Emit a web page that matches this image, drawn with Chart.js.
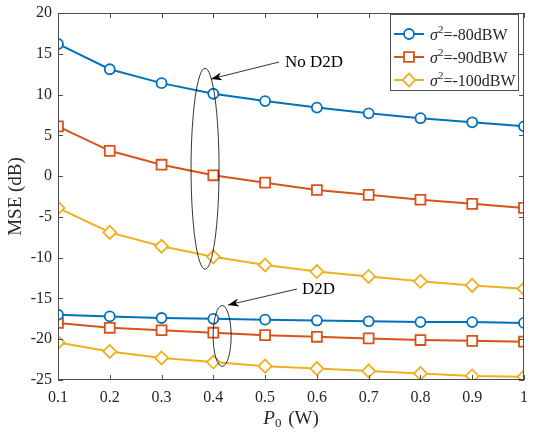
<!DOCTYPE html>
<html>
<head>
<meta charset="utf-8">
<script src="https://cdn.jsdelivr.net/npm/chart.js@4/dist/chart.umd.min.js"></script>
<style>
  body { margin: 0; background: #fff; }
  canvas { display: block; }
</style>
</head>
<body>
<canvas id="mse-chart" width="533" height="432"></canvas>
<script>
// ─── Data ──────────────────────────────────────────────────────────
const powerW = [0.1, 0.2, 0.3, 0.4, 0.5, 0.6, 0.7, 0.8, 0.9, 1];
const xTicks = [0.1, 0.2, 0.3, 0.4, 0.5, 0.6, 0.7, 0.8, 0.9, 1];
const yTicks = [-25, -20, -15, -10, -5, 0, 5, 10, 15, 20];

const noD2D80 = [16.2, 13.1, 11.4, 10.1, 9.2, 8.4, 7.7, 7.1, 6.6, 6.1];
const noD2D90 = [6.1, 3.1, 1.4, 0.1, -0.8, -1.7, -2.3, -2.9, -3.4, -3.9];
const noD2D100 = [-3.9, -6.9, -8.6, -9.9, -10.9, -11.7, -12.3, -12.9, -13.4, -13.8];
const d2d80 = [-17.0, -17.2, -17.4, -17.5, -17.6, -17.7, -17.8, -17.9, -17.9, -18.0];
const d2d90 = [-18.0, -18.6, -18.9, -19.2, -19.5, -19.7, -19.9, -20.1, -20.2, -20.3];
const d2d100 = [-20.4, -21.5, -22.3, -22.8, -23.3, -23.6, -23.9, -24.2, -24.5, -24.6];

const legendLabels = ['-80dBW', '-90dBW', '-100dBW'];

const SERIF = '"Liberation Serif", "DejaVu Serif", serif';
const AXIS_COLOR = '#4d4d4d';
const TEXT_COLOR = '#262626';

const styles = [
  { color: '#0072BD', pointStyle: 'circle', radius: 5 },
  { color: '#D95319', pointStyle: 'rect', radius: 7 },
  { color: '#EDB120', pointStyle: 'rectRot', radius: 6.5 },
];

function toPoints(values) {
  return values.map((y, i) => ({ x: powerW[i], y }));
}

function makeDataset(values, s, label) {
  return {
    label,
    data: toPoints(values),
    borderColor: s.color,
    backgroundColor: '#fff',
    borderWidth: 2,
    pointStyle: s.pointStyle,
    pointRadius: s.radius,
    pointBorderWidth: 1.8,
    pointBackgroundColor: '#fff',
    pointBorderColor: s.color,
    tension: 0,
  };
}

// ─── Frame, inward ticks, titles, legend, annotations ──────────────
const decorPlugin = {
  id: 'decor',
  afterDatasetsDraw(chart) {
    const { ctx, chartArea: a, scales } = chart;
    const xs = scales.x, ys = scales.y;
    ctx.save();

    // box + inward ticks
    ctx.strokeStyle = AXIS_COLOR;
    ctx.lineWidth = 1;
    ctx.strokeRect(a.left + 0.5, a.top + 0.5, a.right - a.left - 1, a.bottom - a.top - 1);
    ctx.beginPath();
    for (const t of xTicks) {
      const px = Math.round(xs.getPixelForValue(t)) + 0.5;
      ctx.moveTo(px, a.bottom); ctx.lineTo(px, a.bottom - 5);
      ctx.moveTo(px, a.top); ctx.lineTo(px, a.top + 5);
    }
    for (const t of yTicks) {
      const py = Math.round(ys.getPixelForValue(t)) + 0.5;
      ctx.moveTo(a.left, py); ctx.lineTo(a.left + 5, py);
      ctx.moveTo(a.right, py); ctx.lineTo(a.right - 5, py);
    }
    ctx.stroke();

    // annotations: ellipses + arrows
    ctx.strokeStyle = '#000';
    ctx.fillStyle = '#000';
    ctx.lineWidth = 0.8;
    const ellipse = (cx, cy, rx, ry) => {
      ctx.beginPath();
      ctx.ellipse(xs.getPixelForValue(cx), ys.getPixelForValue(cy), rx, ry, 0, 0, Math.PI * 2);
      ctx.stroke();
    };
    const arrow = (x1, y1, x2, y2) => {
      ctx.beginPath();
      ctx.moveTo(x1, y1); ctx.lineTo(x2, y2);
      ctx.stroke();
      const ang = Math.atan2(y2 - y1, x2 - x1);
      const len = 11, wid = 4;
      ctx.beginPath();
      ctx.moveTo(x2, y2);
      ctx.lineTo(x2 - len * Math.cos(ang) + wid * Math.sin(ang), y2 - len * Math.sin(ang) - wid * Math.cos(ang));
      ctx.lineTo(x2 - len * 0.7 * Math.cos(ang), y2 - len * 0.7 * Math.sin(ang));
      ctx.lineTo(x2 - len * Math.cos(ang) - wid * Math.sin(ang), y2 - len * Math.sin(ang) + wid * Math.cos(ang));
      ctx.closePath();
      ctx.fill();
    };
    ellipse(0.384, 0.9, 14, 100.5);
    ellipse(0.417, -19.6, 9, 30.5);
    arrow(279, 62, 211, 79);
    arrow(297, 289, 228, 305);

    ctx.fillStyle = '#000';
    ctx.font = '17px ' + SERIF;
    ctx.textBaseline = 'middle';
    ctx.textAlign = 'left';
    ctx.fillText('No D2D', 285, 63);
    ctx.fillText('D2D', 302, 290);

    // axis titles
    ctx.fillStyle = TEXT_COLOR;
    ctx.save();
    ctx.translate(16, (a.top + a.bottom) / 2);
    ctx.rotate(-Math.PI / 2);
    ctx.textAlign = 'center';
    ctx.textBaseline = 'middle';
    ctx.font = '19px ' + SERIF;
    ctx.fillText('MSE (dB)', 0, 0);
    ctx.restore();

    const xc = (a.left + a.right) / 2;
    ctx.textAlign = 'left';
    ctx.textBaseline = 'alphabetic';
    ctx.font = 'italic 19px ' + SERIF;
    const pW = ctx.measureText('P').width;
    ctx.font = '13px ' + SERIF;
    const sW = ctx.measureText('0').width;
    ctx.font = '19px ' + SERIF;
    const rest = ' (W)';
    const rW = ctx.measureText(rest).width;
    let tx = xc - (pW + sW + 2 + rW) / 2;
    const ty = 424;
    ctx.font = 'italic 19px ' + SERIF;
    ctx.fillText('P', tx, ty);
    tx += pW;
    ctx.font = '13px ' + SERIF;
    ctx.fillText('0', tx, ty + 3);
    tx += sW + 2;
    ctx.font = '19px ' + SERIF;
    ctx.fillText(rest, tx, ty);

    // legend
    const lx = 390, ly = 14, lw = 128, lh = 76;
    ctx.fillStyle = '#fff';
    ctx.fillRect(lx, ly, lw, lh);
    ctx.strokeStyle = AXIS_COLOR;
    ctx.lineWidth = 1;
    ctx.strokeRect(lx + 0.5, ly + 0.5, lw, lh);
    const rows = [34, 57, 80];
    chart.data.datasets.slice(0, 3).forEach((ds, i) => {
      const y = rows[i];
      ctx.strokeStyle = ds.borderColor;
      ctx.lineWidth = 2;
      ctx.beginPath();
      ctx.moveTo(394, y); ctx.lineTo(424, y);
      ctx.stroke();
      ctx.fillStyle = '#fff';
      ctx.lineWidth = 1.8;
      Chart.helpers.drawPoint(ctx, {
        pointStyle: ds.pointStyle, radius: ds.pointRadius, rotation: 0, borderWidth: 1.8,
      }, 409, y);
      ctx.fillStyle = TEXT_COLOR;
      ctx.textBaseline = 'alphabetic';
      let x = 430;
      ctx.font = 'italic 16px ' + SERIF;
      ctx.fillText('σ', x, y + 6);
      x += ctx.measureText('σ').width;
      ctx.font = '11px ' + SERIF;
      ctx.fillText('2', x, y - 1);
      x += ctx.measureText('2').width;
      ctx.font = '16px ' + SERIF;
      ctx.fillText('=' + legendLabels[i], x, y + 6);
    });

    ctx.restore();
  },
};

const chart = new Chart(document.getElementById('mse-chart'), {
  type: 'line',
  data: {
    datasets: [
      makeDataset(noD2D80, styles[0], legendLabels[0]),
      makeDataset(noD2D90, styles[1], legendLabels[1]),
      makeDataset(noD2D100, styles[2], legendLabels[2]),
      makeDataset(d2d80, styles[0], 'D2D ' + legendLabels[0]),
      makeDataset(d2d90, styles[1], 'D2D ' + legendLabels[1]),
      makeDataset(d2d100, styles[2], 'D2D ' + legendLabels[2]),
    ],
  },
  options: {
    responsive: false,
    animation: false,
    layout: { padding: { left: 0, right: 9, top: 13, bottom: 0 } },
    plugins: {
      legend: { display: false },
      tooltip: { enabled: false },
    },
    scales: {
      x: {
        type: 'linear',
        min: 0.1,
        max: 1,
        afterBuildTicks: (s) => { s.ticks = xTicks.map((v) => ({ value: v })); },
        afterFit: (s) => { s.height = 52; s.paddingLeft = 0; s.paddingRight = 0; },
        grid: { display: false, drawTicks: false },
        border: { display: false },
        ticks: {
          color: TEXT_COLOR,
          padding: 8,
          maxRotation: 0,
          font: { family: SERIF, size: 16 },
          callback: (v) => String(+v.toFixed(1)),
        },
      },
      y: {
        min: -25,
        max: 20,
        afterBuildTicks: (s) => { s.ticks = yTicks.map((v) => ({ value: v })); },
        afterFit: (s) => { s.width = 58; s.paddingTop = 0; s.paddingBottom = 0; },
        grid: { display: false, drawTicks: false },
        border: { display: false },
        ticks: {
          color: TEXT_COLOR,
          padding: 6,
          font: { family: SERIF, size: 16 },
        },
      },
    },
  },
  plugins: [decorPlugin],
});
</script>
</body>
</html>
